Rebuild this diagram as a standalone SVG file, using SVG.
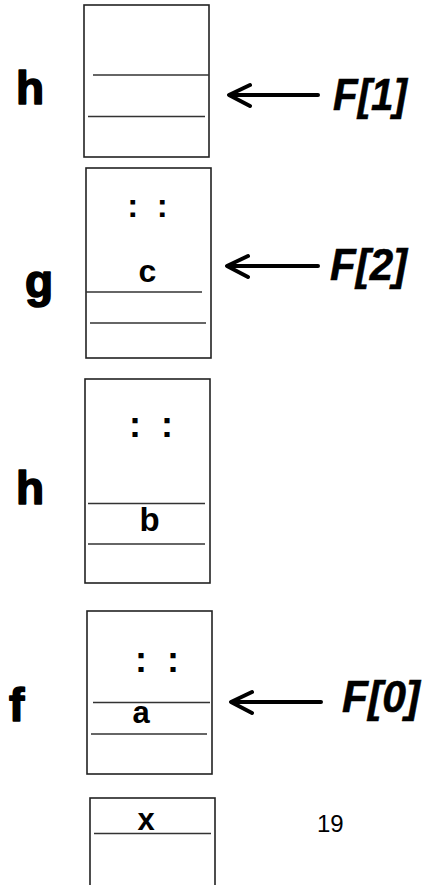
<svg xmlns="http://www.w3.org/2000/svg" width="432" height="885" viewBox="0 0 432 885">
<style>
.box{fill:#fff;stroke:#222;stroke-width:1.6}
.sep{stroke:#333;stroke-width:1.5}
.lbl{font-family:"Liberation Sans",Arial,sans-serif;font-weight:bold;font-size:46px;fill:#000;stroke:#000;stroke-width:1.6;stroke-linejoin:round}
.cell{font-family:"Liberation Sans",Arial,sans-serif;font-weight:bold;fill:#000;text-anchor:middle}
.ptr{font-family:"Liberation Sans",Arial,sans-serif;font-weight:bold;font-style:italic;font-size:44px;fill:#000;stroke:#000;stroke-width:0.6}
.arr{fill:none;stroke:#000;stroke-width:4;stroke-linecap:round;stroke-linejoin:round}
.num{font-family:"Liberation Sans",Arial,sans-serif;font-size:24px;fill:#000}
</style>
<rect width="432" height="885" fill="#fff"/>
<g id="frame-h1">
<rect class="box" x="84" y="5" width="125" height="152"/>
<line class="sep" x1="93" y1="75" x2="209" y2="75"/>
<line class="sep" x1="88" y1="116.5" x2="205" y2="116.5"/>
<text class="lbl" x="16" y="104">h</text>
</g>
<g id="frame-g">
<rect class="box" x="86" y="168" width="125" height="190"/>
<text class="cell" x="147.5" y="217" font-size="33" xml:space="preserve">:  :</text>
<text class="cell" x="147.5" y="282" font-size="32">c</text>
<line class="sep" x1="86" y1="292" x2="202" y2="292"/>
<line class="sep" x1="90" y1="323" x2="206" y2="323"/>
<text class="lbl" x="25" y="297">g</text>
</g>
<g id="frame-h2">
<rect class="box" x="85" y="379" width="125" height="204"/>
<text class="cell" x="151" y="437" font-size="36" xml:space="preserve">:  :</text>
<line class="sep" x1="88" y1="503.5" x2="205" y2="503.5"/>
<text class="cell" x="149.5" y="531" font-size="33">b</text>
<line class="sep" x1="88" y1="544" x2="205" y2="544"/>
<text class="lbl" x="16" y="504">h</text>
</g>
<g id="frame-f">
<rect class="box" x="87" y="611" width="125" height="163"/>
<text class="cell" x="157" y="672" font-size="36" xml:space="preserve">:  :</text>
<line class="sep" x1="93" y1="702.5" x2="210" y2="702.5"/>
<text class="cell" x="141" y="723" font-size="31">a</text>
<line class="sep" x1="91" y1="734" x2="207" y2="734"/>
<text class="lbl" x="9" y="721">f</text>
</g>
<g id="frame-x">
<rect class="box" x="90" y="798" width="125" height="100"/>
<text class="cell" x="146" y="830" font-size="31">x</text>
<line class="sep" x1="94" y1="833.5" x2="211" y2="833.5"/>
</g>
<g id="page-number">
<text class="num" x="317" y="832">19</text>
</g>
<g id="connectors">
<g id="ptr-F1">
<path class="arr" d="M318 95 L230 95 M250 85 L229 95 L250 106"/>
<text class="ptr" x="333" y="110" textLength="74" lengthAdjust="spacingAndGlyphs">F[1]</text>
</g>
<g id="ptr-F2">
<path class="arr" d="M318 266 L228 266 M248 256 L227 266 L248 277"/>
<text class="ptr" x="330" y="280" textLength="77" lengthAdjust="spacingAndGlyphs">F[2]</text>
</g>
<g id="ptr-F0">
<path class="arr" d="M321 702 L232 702 M252 692 L231 702 L252 713"/>
<text class="ptr" x="342" y="712" textLength="78" lengthAdjust="spacingAndGlyphs">F[0]</text>
</g>
</g>
</svg>
